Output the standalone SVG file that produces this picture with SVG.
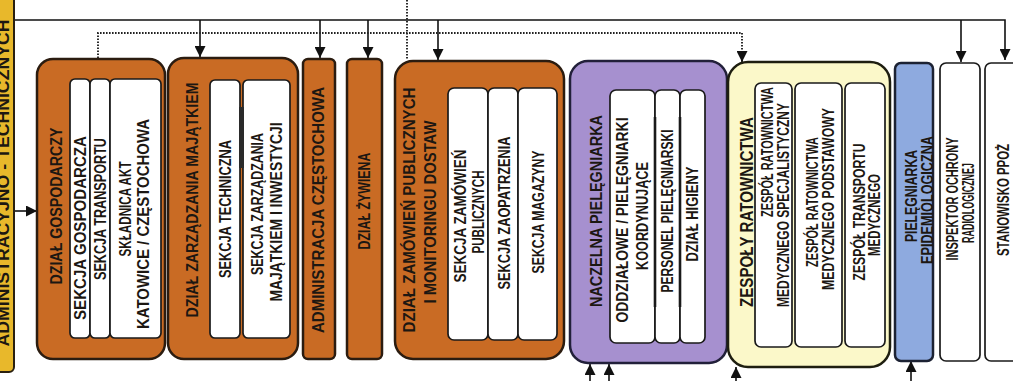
<svg xmlns="http://www.w3.org/2000/svg" width="1013" height="381" viewBox="0 0 1013 381">
<defs>
<marker id="ah" viewBox="0 0 10 10" refX="10" refY="5" markerWidth="11" markerHeight="11" orient="auto" markerUnits="userSpaceOnUse"><path d="M0,0 L10,5 L0,10 z" fill="#111"/></marker>
<style>
.org{fill:#c96b24;stroke:#2b1c10;stroke-width:2.5}
.pur{fill:#a690cf;stroke:#22203a;stroke-width:2.5}
.yel{fill:#fbf8c9;stroke:#1e1e10;stroke-width:2.5}
.blu{fill:#8eaadf;stroke:#1c2233;stroke-width:2.5}
.gold{fill:#e8b82b;stroke:#2a2010;stroke-width:2}
.wht{fill:#fff;stroke:#1a1a1a;stroke-width:1.7}
.t{font-family:"Liberation Sans",Arial,sans-serif;font-weight:bold;text-anchor:middle;dominant-baseline:central;fill:#1c1712}
.tt{font-size:16.5px}
.ts{font-size:16px}
.ln{fill:none;stroke:#111;stroke-width:1.6}
.dt{fill:none;stroke:#222;stroke-width:1.9;stroke-dasharray:1.6 1.4}
</style>
</defs>
<g id="connectors">
<path class="ln" d="M14,20 H1005 V60" marker-end="url(#ah)"/>
<path class="ln" d="M200,20 V57" marker-end="url(#ah)"/>
<path class="ln" d="M320,20 V58" marker-end="url(#ah)"/>
<path class="ln" d="M368,20 V58" marker-end="url(#ah)"/>
<path class="ln" d="M438,20 V60" marker-end="url(#ah)"/>
<path class="ln" d="M961,20 V62" marker-end="url(#ah)"/>
<path class="ln" d="M14,211 H37" marker-end="url(#ah)"/>
<path class="dt" d="M98,58 V33 H742 V62"/>
<path class="ln" d="M742,52 V62" marker-end="url(#ah)"/>
<path class="dt" d="M407,0 V60"/>
<path class="ln" d="M590,381 V364" marker-end="url(#ah)"/>
<path class="ln" d="M609,381 V364" marker-end="url(#ah)"/>
<path class="ln" d="M736,381 V367" marker-end="url(#ah)"/>
<path class="ln" d="M911,381 V361" marker-end="url(#ah)"/>
</g>
<g id="admin-tech">
<rect class="gold" x="-10" y="-10" width="24" height="382" rx="5"/>
<text class="t" font-size="17" transform="translate(3.5,183) rotate(-90)" textLength="327" lengthAdjust="spacingAndGlyphs">ADMINISTRACYJNO - TECHNICZNYCH</text>
</g>
<g id="dzial-gospodarczy">
<rect class="org" x="37" y="59" width="128" height="300" rx="16"/>
<text class="t tt" transform="translate(56,206) rotate(-90)" textLength="157" lengthAdjust="spacingAndGlyphs">DZIAŁ GOSPODARCZY</text>
<rect class="wht" x="70" y="79" width="20" height="259" rx="5"/>
<rect class="wht" x="90" y="79" width="20" height="259" rx="5"/>
<rect class="wht" x="110" y="79" width="51" height="259" rx="5"/>
<text class="t ts" transform="translate(80,228) rotate(-90)" textLength="184" lengthAdjust="spacingAndGlyphs">SEKCJA GOSPODARCZA</text>
<text class="t ts" transform="translate(100,209) rotate(-90)" textLength="142" lengthAdjust="spacingAndGlyphs">SEKCJA TRANSPORTU</text>
<text class="t ts" transform="translate(125,209) rotate(-90)" textLength="95" lengthAdjust="spacingAndGlyphs">SKŁADNICA AKT</text>
<text class="t ts" transform="translate(143,224) rotate(-90)" textLength="210" lengthAdjust="spacingAndGlyphs">KATOWICE / CZĘSTOCHOWA</text>
</g>
<g id="dzial-zarzadzania">
<rect class="org" x="168" y="58" width="130" height="301" rx="16"/>
<text class="t tt" transform="translate(192,200) rotate(-90)" textLength="235" lengthAdjust="spacingAndGlyphs">DZIAŁ ZARZĄDZANIA MAJĄTKIEM</text>
<rect class="wht" x="210" y="80" width="30" height="258" rx="5"/>
<rect class="wht" x="243" y="80" width="47" height="258" rx="5"/>
<rect x="239" y="107" width="5" height="61" fill="#2a2a2a"/>
<text class="t ts" transform="translate(225,209) rotate(-90)" textLength="138" lengthAdjust="spacingAndGlyphs">SEKCJA TECHNICZNA</text>
<text class="t ts" transform="translate(257,204) rotate(-90)" textLength="142" lengthAdjust="spacingAndGlyphs">SEKCJA ZARZĄDZANIA</text>
<text class="t ts" transform="translate(276,212) rotate(-90)" textLength="179" lengthAdjust="spacingAndGlyphs">MAJĄTKIEM I INWESTYCJI</text>
</g>
<g id="administracja-czestochowa">
<rect class="org" x="303" y="59" width="32" height="300" rx="5"/>
<text class="t tt" transform="translate(318,210) rotate(-90)" textLength="246" lengthAdjust="spacingAndGlyphs">ADMINISTRACJA CZĘSTOCHOWA</text>
</g>
<g id="dzial-zywienia">
<rect class="org" x="347" y="59" width="35" height="300" rx="5"/>
<text class="t tt" transform="translate(364,201) rotate(-90)" textLength="97" lengthAdjust="spacingAndGlyphs">DZIAŁ ŻYWIENA</text>
</g>
<g id="dzial-zamowien">
<rect class="org" x="395" y="61" width="169" height="298" rx="18"/>
<text class="t tt" transform="translate(409,210) rotate(-90)" textLength="245" lengthAdjust="spacingAndGlyphs">DZIAŁ ZAMÓWIEŃ PUBLICZNYCH</text>
<text class="t tt" transform="translate(430,212) rotate(-90)" textLength="183" lengthAdjust="spacingAndGlyphs">I MONITORINGU DOSTAW</text>
<rect class="wht" x="448" y="88" width="40" height="252" rx="6"/>
<rect class="wht" x="488" y="88" width="30" height="252" rx="6"/>
<rect class="wht" x="518" y="88" width="39" height="252" rx="6"/>
<text class="t ts" transform="translate(460,216) rotate(-90)" textLength="133" lengthAdjust="spacingAndGlyphs">SEKCJA ZAMÓWIEŃ</text>
<text class="t ts" transform="translate(478,212) rotate(-90)" textLength="83" lengthAdjust="spacingAndGlyphs">PUBLICZNYCH</text>
<text class="t ts" transform="translate(504,213) rotate(-90)" textLength="153" lengthAdjust="spacingAndGlyphs">SEKCJA ZAOPATRZENIA</text>
<text class="t ts" transform="translate(538,212) rotate(-90)" textLength="123" lengthAdjust="spacingAndGlyphs">SEKCJA MAGAZYNY</text>
</g>
<g id="naczelna-pielegniarka">
<rect class="pur" x="570" y="61" width="157" height="302" rx="18"/>
<text class="t tt" fill="#1f1d3a" transform="translate(596,211) rotate(-90)" textLength="192" lengthAdjust="spacingAndGlyphs">NACZELNA PIELĘGNIARKA</text>
<rect class="wht" x="610" y="90" width="45" height="253" rx="6"/>
<rect class="wht" x="655" y="90" width="25" height="253" rx="6"/>
<rect class="wht" x="680" y="90" width="25" height="253" rx="6"/>
<path d="M655,117 V307 M680,117 V307" stroke="#1a1a1a" stroke-width="2.6"/>
<text class="t ts" transform="translate(622,220) rotate(-90)" textLength="205" lengthAdjust="spacingAndGlyphs">ODDZIAŁOWE / PIELĘGNIARKI</text>
<text class="t ts" transform="translate(642,216) rotate(-90)" textLength="108" lengthAdjust="spacingAndGlyphs">KOORDYNUJĄCE</text>
<text class="t ts" transform="translate(667,211) rotate(-90)" textLength="163" lengthAdjust="spacingAndGlyphs">PERSONEL PIELĘGNIARSKI</text>
<text class="t ts" transform="translate(692,214) rotate(-90)" textLength="95" lengthAdjust="spacingAndGlyphs">DZIAŁ HIGIENY</text>
</g>
<g id="zespoly-ratownictwa">
<rect class="yel" x="728" y="62" width="162" height="305" rx="20"/>
<text class="t" font-size="18" transform="translate(747,212) rotate(-90)" textLength="190" lengthAdjust="spacingAndGlyphs">ZESPOŁY RATOWNICTWA</text>
<rect class="wht" x="755" y="83" width="37" height="264" rx="6"/>
<rect class="wht" x="795" y="83" width="47" height="264" rx="6"/>
<rect class="wht" x="845" y="83" width="40" height="264" rx="6"/>
<text class="t ts" transform="translate(767,152) rotate(-90)" textLength="130" lengthAdjust="spacingAndGlyphs">ZESPÓŁ RATOWNICTWA</text>
<text class="t ts" transform="translate(783,205) rotate(-90)" textLength="204" lengthAdjust="spacingAndGlyphs">MEDYCZNEGO SPECJALISTYCZNY</text>
<text class="t ts" transform="translate(812,202) rotate(-90)" textLength="130" lengthAdjust="spacingAndGlyphs">ZESPÓŁ RATOWNICTWA</text>
<text class="t ts" transform="translate(828,199) rotate(-90)" textLength="182" lengthAdjust="spacingAndGlyphs">MEDYCZNEGO PODSTAWOWY</text>
<text class="t ts" transform="translate(859,212) rotate(-90)" textLength="137" lengthAdjust="spacingAndGlyphs">ZESPÓŁ TRANSPORTU</text>
<text class="t ts" transform="translate(874,215) rotate(-90)" textLength="82" lengthAdjust="spacingAndGlyphs">MEDYCZNEGO</text>
</g>
<g id="pielegniarka-epidemiologiczna">
<rect class="blu" x="895" y="63" width="38" height="298" rx="6"/>
<text class="t tt" transform="translate(911,196) rotate(-90)" textLength="92" lengthAdjust="spacingAndGlyphs">PIELĘGNIARKA</text>
<text class="t tt" transform="translate(927,200) rotate(-90)" textLength="128" lengthAdjust="spacingAndGlyphs">EPIDEMIOLOGICZNA</text>
</g>
<g id="inspektor-ochrony">
<rect class="wht" x="940" y="63" width="40" height="298" rx="6" stroke-width="2"/>
<text class="t ts" transform="translate(952,199) rotate(-90)" textLength="123" lengthAdjust="spacingAndGlyphs">INSPEKTOR OCHRONY</text>
<text class="t ts" transform="translate(968,203) rotate(-90)" textLength="80" lengthAdjust="spacingAndGlyphs">RADIOLOGICZNEJ</text>
</g>
<g id="stanowisko-ppoz">
<rect class="wht" x="985" y="63" width="40" height="298" rx="6" stroke-width="2"/>
<text class="t ts" transform="translate(1003,200) rotate(-90)" textLength="112" lengthAdjust="spacingAndGlyphs">STANOWISKO PPOŻ</text>
</g>
</svg>
